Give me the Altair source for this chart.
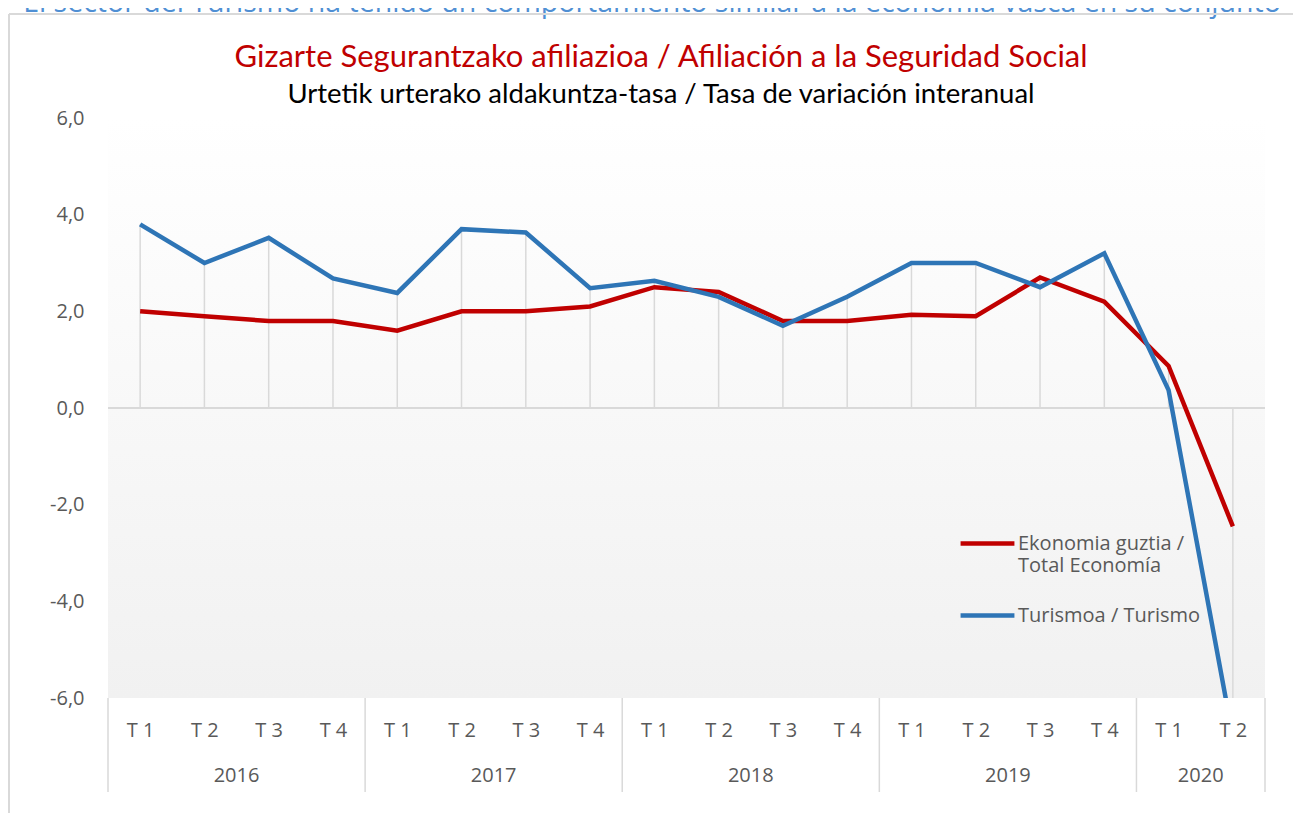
import json
import altair as alt
import pandas as pd

# ---- data ----
quarters = ["T 1", "T 2", "T 3", "T 4"] * 4 + ["T 1", "T 2"]
years = ["2016"] * 4 + ["2017"] * 4 + ["2018"] * 4 + ["2019"] * 4 + ["2020"] * 2
ekonomia = [2.0, 1.9, 1.8, 1.8, 1.6, 2.0, 2.0, 2.1, 2.5, 2.4, 1.8, 1.8,
            1.93, 1.9, 2.7, 2.2, 0.87, -2.45]
turismo = [3.8, 3.0, 3.52, 2.68, 2.38, 3.7, 3.63, 2.48, 2.63, 2.3, 1.7, 2.3,
           3.0, 3.0, 2.5, 3.2, 0.37, -6.8]
series_names = ["Ekonomia guztia / Total Economía", "Turismoa / Turismo"]
series_colors = ["#c00000", "#2e75b6"]
y_ticks = [-6, -4, -2, 0, 2, 4, 6]

title_text = "Gizarte Segurantzako afiliazioa / Afiliación a la Seguridad Social"
subtitle_text = "Urtetik urterako aldakuntza-tasa / Tasa de variación interanual"
heading_text = "El sector del Turismo ha tenido un comportamiento similar a la economía vasca en su conjunto"

# ---- tables ----
n = len(quarters)
idx = list(range(n))
long_df = pd.DataFrame({
    "idx": idx * 2,
    "serie": [series_names[0]] * n + [series_names[1]] * n,
    "value": ekonomia + turismo,
})
drop_df = pd.DataFrame({
    "idx": idx,
    "lo": [min(0, a, b) for a, b in zip(ekonomia, turismo)],
    "hi": [max(0, a, b) for a, b in zip(ekonomia, turismo)],
})
yr = pd.DataFrame({"idx": idx, "year": years})
year_df = yr.groupby("year", sort=True)["idx"].agg(["min", "max"]).reset_index()
year_df["mid"] = (year_df["min"] + year_df["max"]) / 2
sep_positions = [v - 0.5 for v in year_df["min"]] + [year_df["max"].iloc[-1] + 0.5]
sep_df = pd.DataFrame({"pos": sep_positions})
bg_df = pd.DataFrame({"x0": [-0.5], "x1": [n - 0.5], "y0": [y_ticks[0]], "y1": [y_ticks[-1]]})
text_df = pd.DataFrame({"title": [title_text], "subtitle": [subtitle_text], "heading": [heading_text]})

W, H = 1157, 580
GRID = "#d9d9d9"
LABEL = "#595959"

xscale = alt.Scale(domain=[-0.5, n - 0.5], nice=False, zero=False)
yscale = alt.Scale(domain=[y_ticks[0], y_ticks[-1]], nice=False)

bg = alt.Chart(bg_df).mark_rect(
    color=alt.Gradient(
        gradient="linear",
        stops=[alt.GradientStop(color="#ffffff", offset=0),
               alt.GradientStop(color="#f8f8f8", offset=0.5),
               alt.GradientStop(color="#f1f1f1", offset=1)],
        x1=0, x2=0, y1=0, y2=1,
    )
).encode(
    x=alt.X("x0:Q", scale=xscale,
            axis=alt.Axis(values=idx, labelExpr=f"{json.dumps(quarters)}[datum.value]",
                          title=None, grid=False, domain=False, ticks=False, tickSize=0,
                          labelBaseline="middle", labelPadding=32, labelFont="Open Sans",
                          labelFontSize=20, labelColor=LABEL)),
    x2="x1:Q",
    y=alt.Y("y0:Q", scale=yscale,
            axis=alt.Axis(values=y_ticks,
                          labelExpr="(datum.value < 0 ? '-' : '') + replace(format(abs(datum.value), '.1f'), '.', ',')",
                          title=None, grid=False, domain=False, ticks=False, tickSize=0,
                          labelPadding=24, labelFont="Open Sans", labelFontSize=20,
                          labelColor=LABEL)),
    y2="y1:Q",
)

zero_line = alt.Chart(bg_df).mark_rule(color=GRID, strokeWidth=2).encode(y=alt.datum(0))

drops = alt.Chart(drop_df).mark_rule(color=GRID, strokeWidth=1.5, clip=True).encode(
    x="idx:Q", y="lo:Q", y2="hi:Q")

seps = alt.Chart(sep_df).mark_rule(color=GRID, strokeWidth=1.5).encode(
    x="pos:Q", y=alt.value(H), y2=alt.value(H + 94))

year_text = alt.Chart(year_df).mark_text(
    font="Open Sans", fontSize=20, color=LABEL, baseline="middle"
).encode(x="mid:Q", y=alt.value(H + 78), text="year:N")

lines = alt.Chart(long_df).mark_line(strokeWidth=4.5, clip=True).encode(
    x="idx:Q",
    y="value:Q",
    color=alt.Color(
        "serie:N",
        scale=alt.Scale(domain=series_names, range=series_colors),
        legend=alt.Legend(
            title=None, orient="none", legendX=850, legendY=396,
            symbolType="stroke", symbolSize=2900, symbolStrokeWidth=4.5,
            labelFont="Open Sans", labelFontSize=20, labelColor=LABEL,
            labelOffset=1, rowPadding=10, labelLimit=400,
            labelExpr=f"datum.label == '{series_names[0]}' ? ['Ekonomia guztia /', 'Total Economía'] : datum.label",
        ),
    ),
)

title_mark = alt.Chart(text_df).mark_text(
    font="Lato", fontSize=31, color="#c00000", align="center", baseline="alphabetic"
).encode(x=alt.value(553), y=alt.value(-51), text="title:N")

subtitle_mark = alt.Chart(text_df).mark_text(
    font="Lato", fontSize=27.5, color="#000000", align="center", baseline="alphabetic"
).encode(x=alt.value(553), y=alt.value(-15), text="subtitle:N")

heading = alt.Chart(text_df).mark_text(
    font="Open Sans", fontSize=28.5, color="#4f8fd4", align="center", baseline="alphabetic"
).encode(x=alt.value(544), y=alt.value(-106), text="heading:N")

border_v = alt.Chart(bg_df).mark_rule(color=GRID, strokeWidth=2).encode(
    x=alt.value(-99), y=alt.value(-104), y2=alt.value(H + 140))
border_h = alt.Chart(bg_df).mark_rule(color=GRID, strokeWidth=2).encode(
    x=alt.value(-99), x2=alt.value(W + 40), y=alt.value(-104))

chart = alt.layer(
    bg, zero_line, drops, seps, year_text, lines, title_mark, subtitle_mark,
    heading, border_v, border_h
).properties(
    width=W, height=H,
    autosize=alt.AutoSizeParams(type="none"),
    padding={"left": 100, "top": 110, "right": 28, "bottom": 115},
    background="white",
).configure_view(stroke=None)

chart.save("out.html", embed_options={"renderer": "svg", "actions": False})
